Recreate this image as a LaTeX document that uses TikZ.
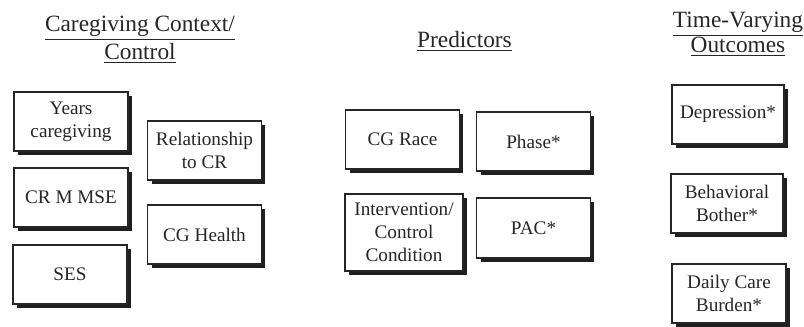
\documentclass[tikz,border=0pt]{standalone}
\usepackage{fontspec}
\setmainfont{Liberation Serif}
\usetikzlibrary{shadows}
\definecolor{ink}{gray}{0.15}
\tikzset{
  varbox/.style={draw=ink, line width=0.8pt, fill=white, text=ink,
    minimum width=85pt, minimum height=44.25pt, inner sep=0pt, align=center,
    font=\fontsize{14.4}{17.25}\selectfont,
    general shadow={fill=black!88, shadow xshift=3pt, shadow yshift=-3.2pt}},
  coltitle/.style={text=ink, inner sep=0pt, anchor=base,
    font=\fontsize{17.5}{21}\selectfont}
}
\begin{document}
\begin{tikzpicture}[x=0.75pt, y=-0.75pt]
\useasboundingbox (0,0) rectangle (804,327);
% titles
\node[coltitle] (t1a) at (140,32) {\underline{Caregiving Context/}};
\node[coltitle] (t1b) at (140,60) {\underline{Control}};
\node[coltitle] (t2) at (464.5,48) {\underline{Predictors}};
\node[coltitle] (t3a) at (738,28) {\underline{Time-Varying}};
\node[coltitle] (t3b) at (738,53) {\underline{Outcomes}};
% caregiving context
\node[varbox, minimum width=85.5pt] (years) at (71,121.5) {Years\\caregiving};
\node[varbox, minimum width=85.5pt] (mmse) at (71,197.5) {CR M MSE};
\node[varbox, minimum width=85.5pt] (ses) at (70,274.5) {SES};
\node[varbox] (rel) at (204.5,150.5) {Relationship\\to CR};
\node[varbox] (health) at (204.5,234.5) {CG Health};
% predictors
\node[varbox] (race) at (402.5,139.5) {CG Race};
\node[varbox] (phase) at (533.5,141.5) {Phase*};
\node[varbox, minimum width=88.5pt, minimum height=57.75pt] (interv) at (404,232.5) {Intervention/\\Control\\Condition};
\node[varbox, minimum height=45pt] (pac) at (533.5,228) {PAC*};
% outcomes
\node[varbox, minimum width=84pt] (dep) at (728,114.5) {Depression*};
\node[varbox, minimum width=84pt] (beh) at (727,203.5) {Behavioral\\Bother*};
\node[varbox, minimum width=85.5pt] (daily) at (729,293.5) {Daily Care\\Burden*};
\end{tikzpicture}
\end{document}
